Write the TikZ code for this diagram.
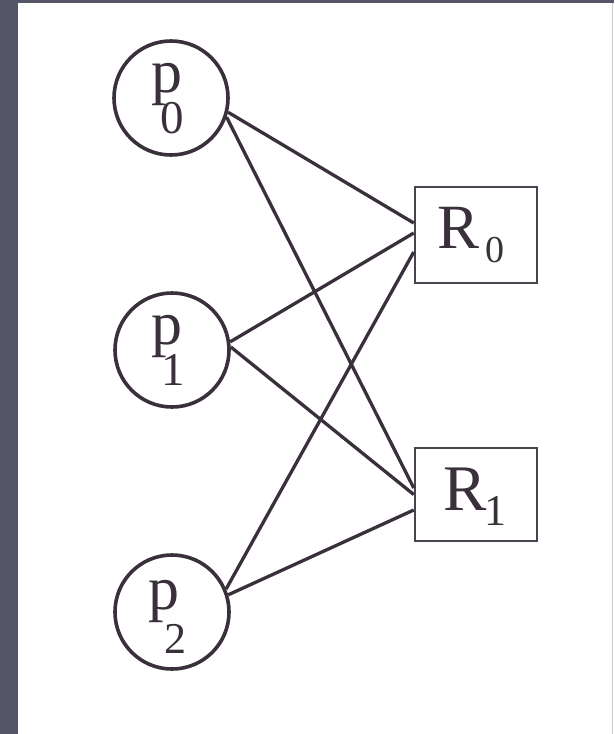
\documentclass[tikz,border=0pt]{standalone}
\usepackage{fontspec}
\setmainfont{Liberation Serif}
\usetikzlibrary{calc}
\definecolor{frame}{RGB}{84,86,103}
\definecolor{ink}{RGB}{58,48,60}
\definecolor{boxink}{RGB}{72,68,78}
\tikzset{
  proc/.style={circle, draw=ink, line width=3.6pt, minimum size=114pt, inner sep=0pt},
  res/.style={rectangle, draw=boxink, line width=2.5pt, minimum width=122pt, inner sep=0pt},
  big/.style={anchor=base, inner sep=0pt, text=ink, font=\fontsize{62}{62}\selectfont},
  sub/.style={anchor=base, inner sep=0pt, text=ink, font=\fontsize{#1}{#1}\selectfont},
  link/.style={draw=ink, line width=3.3pt}
}
\begin{document}
\begin{tikzpicture}[x=1pt, y=-1pt]
\useasboundingbox (0,0) rectangle (614,734);
\fill[frame] (0,0) rectangle (614,734);
\fill[white] (18,3) rectangle (614,734);
\draw[gray!40, line width=1pt] (612,3) -- (612,734);

% processes
\node[proc] (p0) at (171,98) {};
\node[proc] (p1) at (172,350) {};
\node[proc] (p2) at (172,612) {};
\node[big] (p0t) at (167,92) {p};
\node[sub=47] (p0s) at (172,133) {0};
\node[big] (p1t) at (167,344) {p};
\node[sub=47] (p1s) at (173,385) {1};
\node[big] (p2t) at (164,609) {p};
\node[sub=44] (p2s) at (175,653) {2};

% resources
\node[res, minimum height=96pt] (R0) at (476,235) {};
\node[res, minimum height=93pt] (R1) at (476,494.5) {};
\node[big, font=\fontsize{63}{63}\selectfont] (R0t) at (459,248) {R};
\node[sub=38] (R0s) at (495,262) {0};
\node[big, font=\fontsize{65}{65}\selectfont] (R1t) at (465,510) {R};
\node[sub=44] (R1s) at (495,525) {1};

% connectors
\draw[link] (p0.-14) -- ([yshift=12pt]R0.west);
\draw[link] (p0.-19) -- ([yshift=6.5pt]R1.west);
\draw[link] (p1.8) -- ([yshift=2pt]R0.west);
\draw[link] (p1.3) -- (R1.west);
\draw[link] (p2.23) -- ([yshift=-17pt]R0.west);
\draw[link] (p2.17) -- ([yshift=-15.5pt]R1.west);
\end{tikzpicture}
\end{document}
